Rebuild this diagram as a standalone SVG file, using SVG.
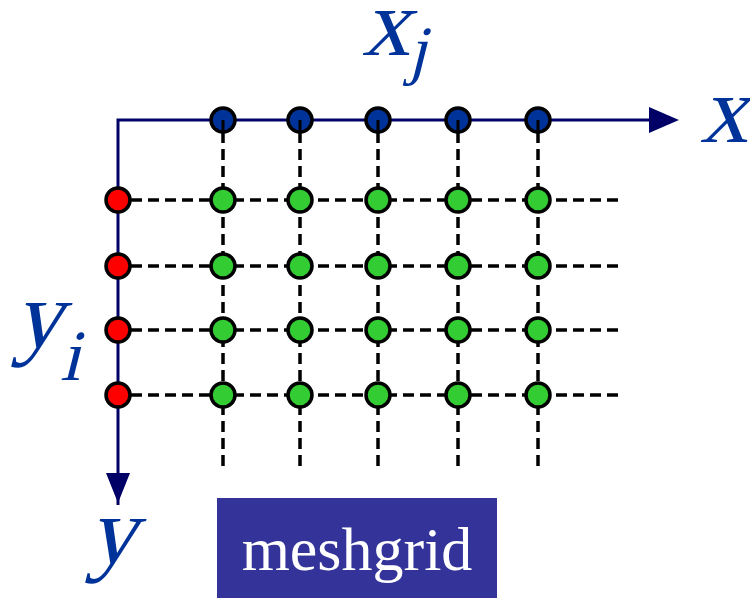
<svg xmlns="http://www.w3.org/2000/svg" width="750" height="598" viewBox="0 0 750 598">
<defs>
<style>
.axis{stroke:#000066;stroke-width:3;fill:none}
.ah{fill:#000066}
.dash{stroke:#000;stroke-width:3.5;stroke-dasharray:11 6;fill:none}
.node{stroke:#000;stroke-width:3.5}
.blue{fill:#003399}
.green{fill:#33cc33}
.red{fill:#ff0000}
.lbl{font-family:"Liberation Serif","Times New Roman",serif;fill:#003399}
</style>
</defs>
<g id="axes">
<path class="axis" d="M118,505 L118,120 L655,120"/>
<polygon class="ah" points="649,107 679,120 649,133"/>
<polygon class="ah" points="106,473 118,503 130,473"/>
</g>
<g id="top-nodes">
<g id="xj1"><circle class="node blue" cx="223" cy="120" r="12"/><line x1="223" y1="120" x2="223" y2="132" stroke="#000" stroke-width="3"/></g>
<g id="xj2"><circle class="node blue" cx="300" cy="120" r="12"/><line x1="300" y1="120" x2="300" y2="132" stroke="#000" stroke-width="3"/></g>
<g id="xj3"><circle class="node blue" cx="378" cy="120" r="12"/><line x1="378" y1="120" x2="378" y2="132" stroke="#000" stroke-width="3"/></g>
<g id="xj4"><circle class="node blue" cx="458" cy="120" r="12"/><line x1="458" y1="120" x2="458" y2="132" stroke="#000" stroke-width="3"/></g>
<g id="xj5"><circle class="node blue" cx="538" cy="120" r="12"/><line x1="538" y1="120" x2="538" y2="132" stroke="#000" stroke-width="3"/></g>
</g>
<g id="connectors">
<line class="dash" x1="223" y1="132" x2="223" y2="468"/>
<line class="dash" x1="300" y1="132" x2="300" y2="468"/>
<line class="dash" x1="378" y1="132" x2="378" y2="468"/>
<line class="dash" x1="458" y1="132" x2="458" y2="468"/>
<line class="dash" x1="538" y1="132" x2="538" y2="468"/>
<line class="dash" x1="131" y1="200" x2="618" y2="200"/>
<line class="dash" x1="131" y1="266" x2="618" y2="266"/>
<line class="dash" x1="131" y1="330" x2="618" y2="330"/>
<line class="dash" x1="131" y1="395" x2="618" y2="395"/>
</g>
<g id="y-nodes">
<g id="yi1"><circle class="node red" cx="118" cy="200" r="12"/></g>
<g id="yi2"><circle class="node red" cx="118" cy="266" r="12"/></g>
<g id="yi3"><circle class="node red" cx="118" cy="330" r="12"/></g>
<g id="yi4"><circle class="node red" cx="118" cy="395" r="12"/></g>
</g>
<g id="grid-nodes" class="node green">
<circle cx="223" cy="200" r="12"/><circle cx="300" cy="200" r="12"/><circle cx="378" cy="200" r="12"/><circle cx="458" cy="200" r="12"/><circle cx="538" cy="200" r="12"/>
<circle cx="223" cy="266" r="12"/><circle cx="300" cy="266" r="12"/><circle cx="378" cy="266" r="12"/><circle cx="458" cy="266" r="12"/><circle cx="538" cy="266" r="12"/>
<circle cx="223" cy="330" r="12"/><circle cx="300" cy="330" r="12"/><circle cx="378" cy="330" r="12"/><circle cx="458" cy="330" r="12"/><circle cx="538" cy="330" r="12"/>
<circle cx="223" cy="395" r="12"/><circle cx="300" cy="395" r="12"/><circle cx="378" cy="395" r="12"/><circle cx="458" cy="395" r="12"/><circle cx="538" cy="395" r="12"/>
</g>
<g id="labels">
<text class="lbl" transform="translate(362,55) skewX(-14)" font-size="96">x</text>
<text class="lbl" transform="translate(408,72) skewX(-14)" font-size="66">j</text>
<text class="lbl" transform="translate(700,142) skewX(-14)" font-size="96">x</text>
<text class="lbl" transform="translate(14,347) skewX(-14)" font-size="96">y</text>
<text class="lbl" transform="translate(60,380) skewX(-14)" font-size="72">i</text>
<text class="lbl" transform="translate(88,563) skewX(-14)" font-size="96">y</text>
</g>
<g id="meshgrid">
<rect x="217" y="498" width="280" height="100" fill="#333399"/>
<text x="357" y="570" font-family="Liberation Serif, serif" font-size="62" fill="#fff" text-anchor="middle">meshgrid</text>
</g>
</svg>
